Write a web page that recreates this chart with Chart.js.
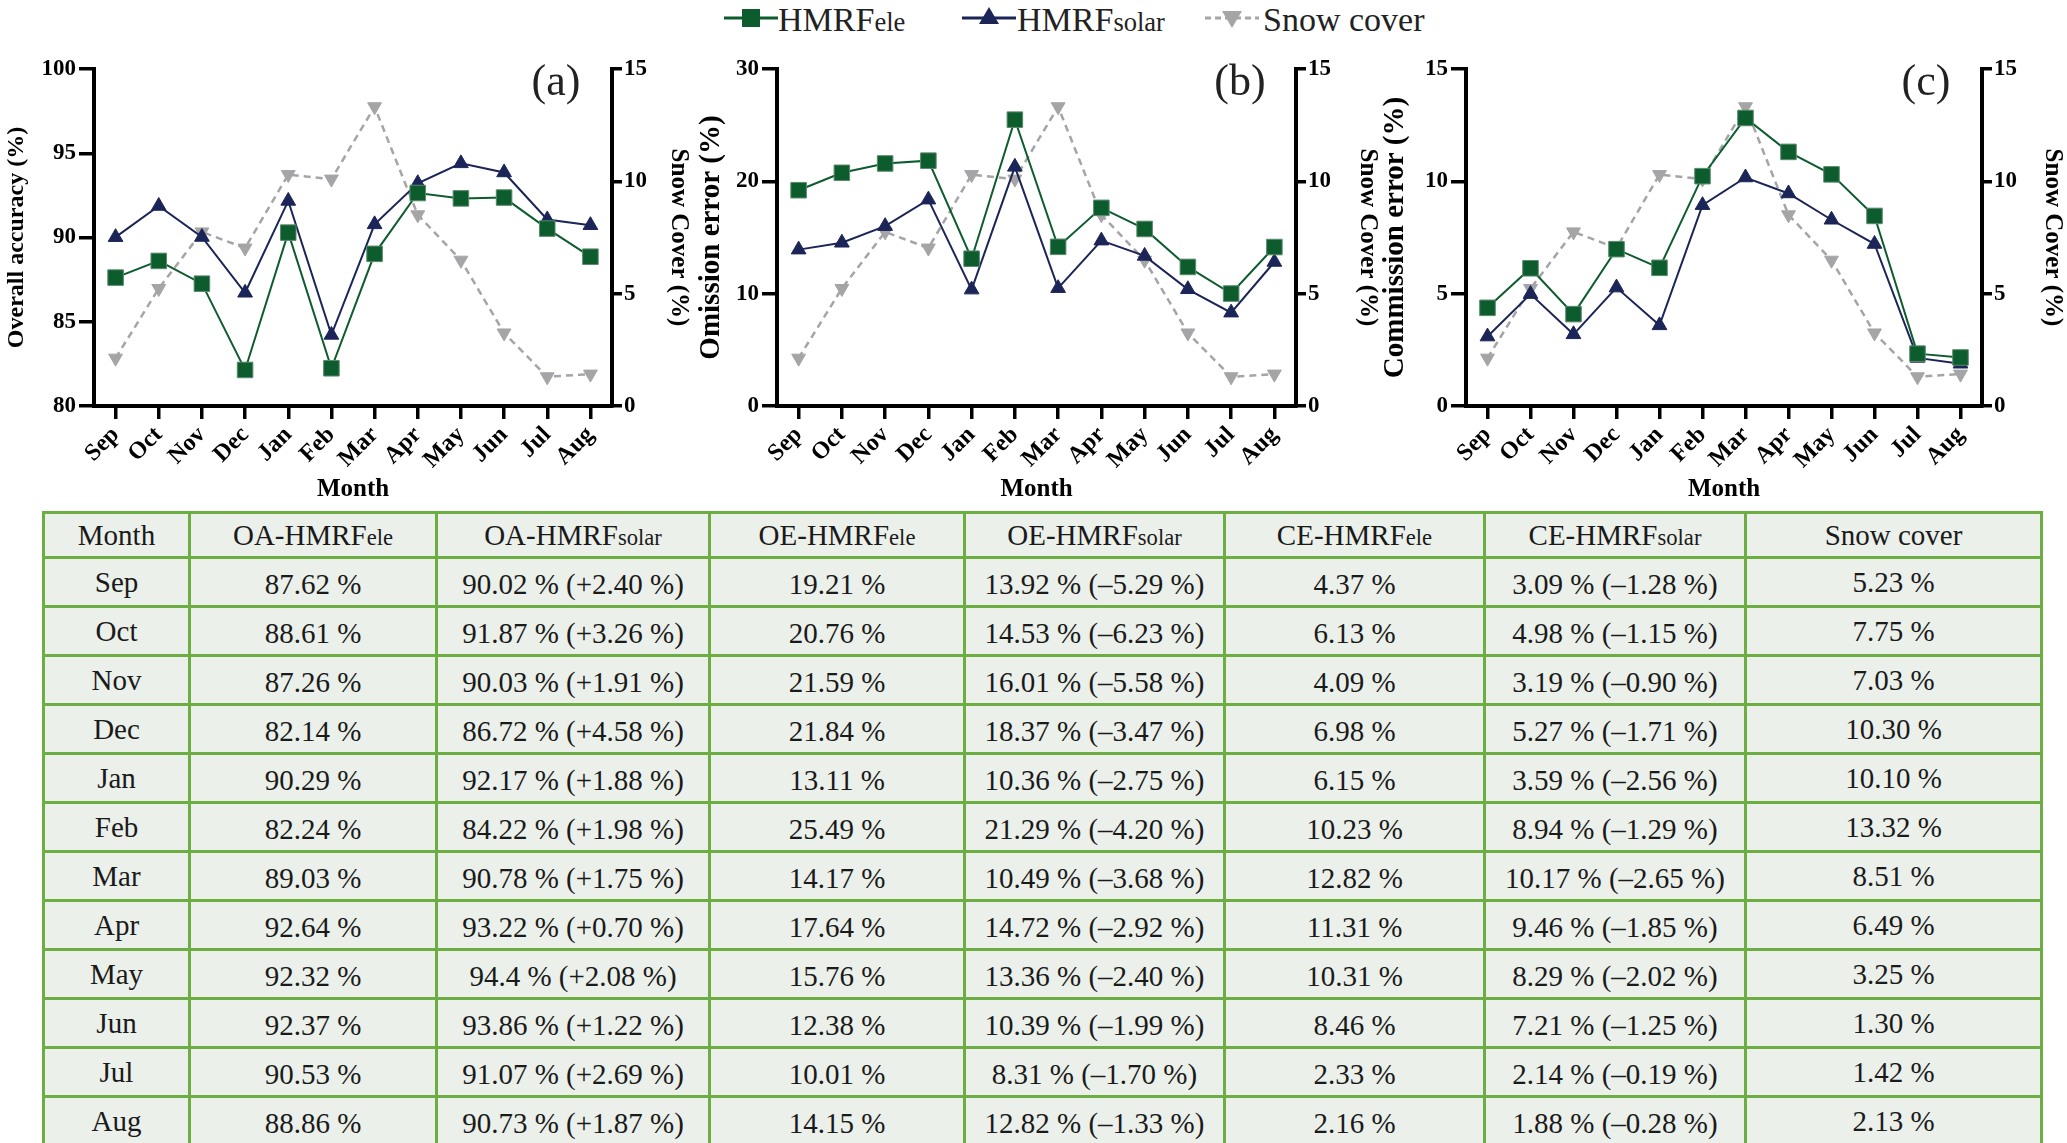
<!DOCTYPE html>
<html>
<head>
<meta charset="utf-8">
<script src="https://cdn.jsdelivr.net/npm/chart.js@4.4.0/dist/chart.umd.min.js"></script>
<style>
body{margin:0;background:#fff;width:2067px;height:1143px;position:relative;overflow:hidden;font-family:'Liberation Serif','Times New Roman',serif;}
canvas{position:absolute;top:0;}
.leg{position:absolute;top:3px;font-size:34px;line-height:34px;color:#222;white-space:nowrap;}
.legm{position:absolute;top:3px;}
.sm{font-size:0.78em;}
table{position:absolute;left:42px;top:511px;border-collapse:collapse;background:#ebf0ea;table-layout:fixed;}
td{border:3px solid #6cae42;text-align:center;font-size:29px;color:#1a1a1a;padding:5px 0 0 0;height:41px;white-space:nowrap;}
td.m{padding:0;height:46px;}
tr.hd td{height:42px;padding:0;}
</style>
</head>
<body>
<div class="legm" style="left:724px"><svg width="54" height="30"><line x1="0" y1="15" x2="54" y2="15" stroke="#0d5c2e" stroke-width="3"/><rect x="18" y="6" width="18" height="18" fill="#0d5c2e"/></svg></div>
<div class="leg" style="left:778px">HMRF<span class="sm">ele</span></div>
<div class="legm" style="left:962px"><svg width="54" height="30"><line x1="0" y1="15" x2="54" y2="15" stroke="#1c2557" stroke-width="3"/><polygon points="27,4 37,21 17,21" fill="#1c2557"/></svg></div>
<div class="leg" style="left:1017px">HMRF<span class="sm">solar</span></div>
<div class="legm" style="left:1205px"><svg width="54" height="30"><line x1="0" y1="15" x2="54" y2="15" stroke="#a5a5a8" stroke-width="3" stroke-dasharray="6,4"/><polygon points="17,8 37,8 27,25" fill="#a5a5a8"/></svg></div>
<div class="leg" style="left:1263px">Snow cover</div>

<canvas id="ca" width="700" height="505" style="left:0px"></canvas>
<canvas id="cb" width="700" height="505" style="left:683px"></canvas>
<canvas id="cc" width="695" height="505" style="left:1372px"></canvas>

<table id="tbl"></table>

<script>
// data
const months = ['Sep','Oct','Nov','Dec','Jan','Feb','Mar','Apr','May','Jun','Jul','Aug'];
const oaEle   = ['87.62','88.61','87.26','82.14','90.29','82.24','89.03','92.64','92.32','92.37','90.53','88.86'];
const oaSolar = ['90.02','91.87','90.03','86.72','92.17','84.22','90.78','93.22','94.4','93.86','91.07','90.73'];
const oaDiff  = ['+2.40','+3.26','+1.91','+4.58','+1.88','+1.98','+1.75','+0.70','+2.08','+1.22','+2.69','+1.87'];
const oeEle   = ['19.21','20.76','21.59','21.84','13.11','25.49','14.17','17.64','15.76','12.38','10.01','14.15'];
const oeSolar = ['13.92','14.53','16.01','18.37','10.36','21.29','10.49','14.72','13.36','10.39','8.31','12.82'];
const oeDiff  = ['–5.29','–6.23','–5.58','–3.47','–2.75','–4.20','–3.68','–2.92','–2.40','–1.99','–1.70','–1.33'];
const ceEle   = ['4.37','6.13','4.09','6.98','6.15','10.23','12.82','11.31','10.31','8.46','2.33','2.16'];
const ceSolar = ['3.09','4.98','3.19','5.27','3.59','8.94','10.17','9.46','8.29','7.21','2.14','1.88'];
const ceDiff  = ['–1.28','–1.15','–0.90','–1.71','–2.56','–1.29','–2.65','–1.85','–2.02','–1.25','–0.19','–0.28'];
const snowTable = ['5.23','7.75','7.03','10.30','10.10','13.32','8.51','6.49','3.25','1.30','1.42','2.13'];
// snow cover as plotted in the panels
const snowChart = [2.13, 5.23, 7.75, 7.03, 10.30, 10.10, 13.32, 8.51, 6.49, 3.25, 1.30, 1.42];

const GREEN = '#0d5c2e', NAVY = '#1c2557', GREY = '#a5a5a8';
const FONT = "'Liberation Serif','Times New Roman',serif";

// "(a)" style tag in the top right of each panel
const panelTag = {
  id: 'panelTag',
  afterDraw(chart, args, opts) {
    const {ctx, chartArea} = chart;
    ctx.save();
    ctx.font = '44px ' + FONT;
    ctx.fillStyle = '#222';
    ctx.textAlign = 'center';
    ctx.textBaseline = 'middle';
    ctx.fillText(opts.text, chartArea.right - opts.dx, chartArea.top + 14);
    ctx.restore();
  }
};

function axisBase(tickLen) {
  return {
    grid: {display: true, drawOnChartArea: false, color: '#000', lineWidth: 3.5, tickLength: tickLen, tickWidth: 3.5},
    border: {display: true, color: '#000', width: 4},
  };
}

// p: {rightW, titleSize, leftPad, rightPad}
function makeChart(id, left, p, yTitle, eleVals, solarVals, tag) {
  const bold = s => ({family: FONT, size: s, weight: 'bold'});
  new Chart(document.getElementById(id), {
    type: 'line',
    data: {
      labels: months,
      datasets: [
        {label: 'HMRFele', data: eleVals.map(Number), yAxisID: 'y', borderColor: GREEN, backgroundColor: GREEN,
         borderWidth: 2, pointStyle: 'rect', pointRadius: 11, pointBorderColor: '#5b8a6c', pointBorderWidth: 1},
        {label: 'HMRFsolar', data: solarVals.map(Number), yAxisID: 'y', borderColor: NAVY, backgroundColor: NAVY,
         borderWidth: 2, pointStyle: 'triangle', pointRadius: 8.5, pointBorderWidth: 1},
        {label: 'Snow cover', data: snowChart, yAxisID: 'y2', borderColor: GREY, backgroundColor: GREY,
         borderWidth: 2.5, borderDash: [7, 5], pointStyle: 'triangle', pointRotation: 180, pointRadius: 8, pointBorderWidth: 1}
      ]
    },
    options: {
      responsive: false,
      animation: false,
      layout: {padding: {top: 69, left: 0, right: 0, bottom: 0}},
      plugins: {legend: {display: false}, tooltip: {enabled: false}, panelTag: {text: tag, dx: 56}},
      scales: {
        x: Object.assign(axisBase(13), {
          offset: true,
          ticks: {color: '#000', font: bold(24), maxRotation: 45, minRotation: 45, autoSkip: false, padding: 2},
          title: {display: true, text: 'Month', color: '#000', font: bold(25), padding: 0},
          afterFit: s => { s.height = 99; }
        }),
        y: Object.assign(axisBase(15), {
          position: 'left', min: left.min, max: left.max,
          ticks: {stepSize: left.step, color: '#000', font: bold(23), padding: 3},
          title: {display: true, text: yTitle, color: '#000', font: bold(p.titleSize), padding: {top: p.leftPad, bottom: 0}},
          afterFit: s => { s.width = 94; }
        }),
        y2: Object.assign(axisBase(10), {
          position: 'right', min: 0, max: 15,
          ticks: {stepSize: 5, color: '#000', font: bold(23), padding: 2},
          title: {display: true, text: 'Snow Cover (%)', color: '#000', font: bold(25), padding: {top: p.rightPad, bottom: 0}},
          afterFit: s => { s.width = p.rightW; }
        })
      }
    },
    plugins: [panelTag]
  });
}

makeChart('ca', {min: 80, max: 100, step: 5}, {rightW: 88, titleSize: 24, leftPad: 2, rightPad: 7}, 'Overall accuracy (%)', oaEle, oaSolar, '(a)');
makeChart('cb', {min: 0, max: 30, step: 10}, {rightW: 87, titleSize: 29, leftPad: 11, rightPad: 1}, 'Omission error (%)', oeEle, oeSolar, '(b)');
makeChart('cc', {min: 0, max: 15, step: 5}, {rightW: 85, titleSize: 29, leftPad: 6, rightPad: 0}, 'Commission error (%)', ceEle, ceSolar, '(c)');

// table below the charts
const colW = [146, 247, 273, 255, 260, 260, 261, 296];
const tbl = document.getElementById('tbl');
let html = '<colgroup>' + colW.map(w => `<col style="width:${w}px">`).join('') + '</colgroup>';
html += '<tr class="hd"><td>Month</td><td>OA-HMRF<span class="sm">ele</span></td><td>OA-HMRF<span class="sm">solar</span></td>' +
        '<td>OE-HMRF<span class="sm">ele</span></td><td>OE-HMRF<span class="sm">solar</span></td>' +
        '<td>CE-HMRF<span class="sm">ele</span></td><td>CE-HMRF<span class="sm">solar</span></td><td>Snow cover</td></tr>';
months.forEach((m, i) => {
  html += `<tr><td class="m">${m}</td><td>${oaEle[i]} %</td><td>${oaSolar[i]} % (${oaDiff[i]} %)</td>` +
          `<td>${oeEle[i]} %</td><td>${oeSolar[i]} % (${oeDiff[i]} %)</td>` +
          `<td>${ceEle[i]} %</td><td>${ceSolar[i]} % (${ceDiff[i]} %)</td><td class="m">${snowTable[i]} %</td></tr>`;
});
tbl.innerHTML = html;
</script>
</body>
</html>
